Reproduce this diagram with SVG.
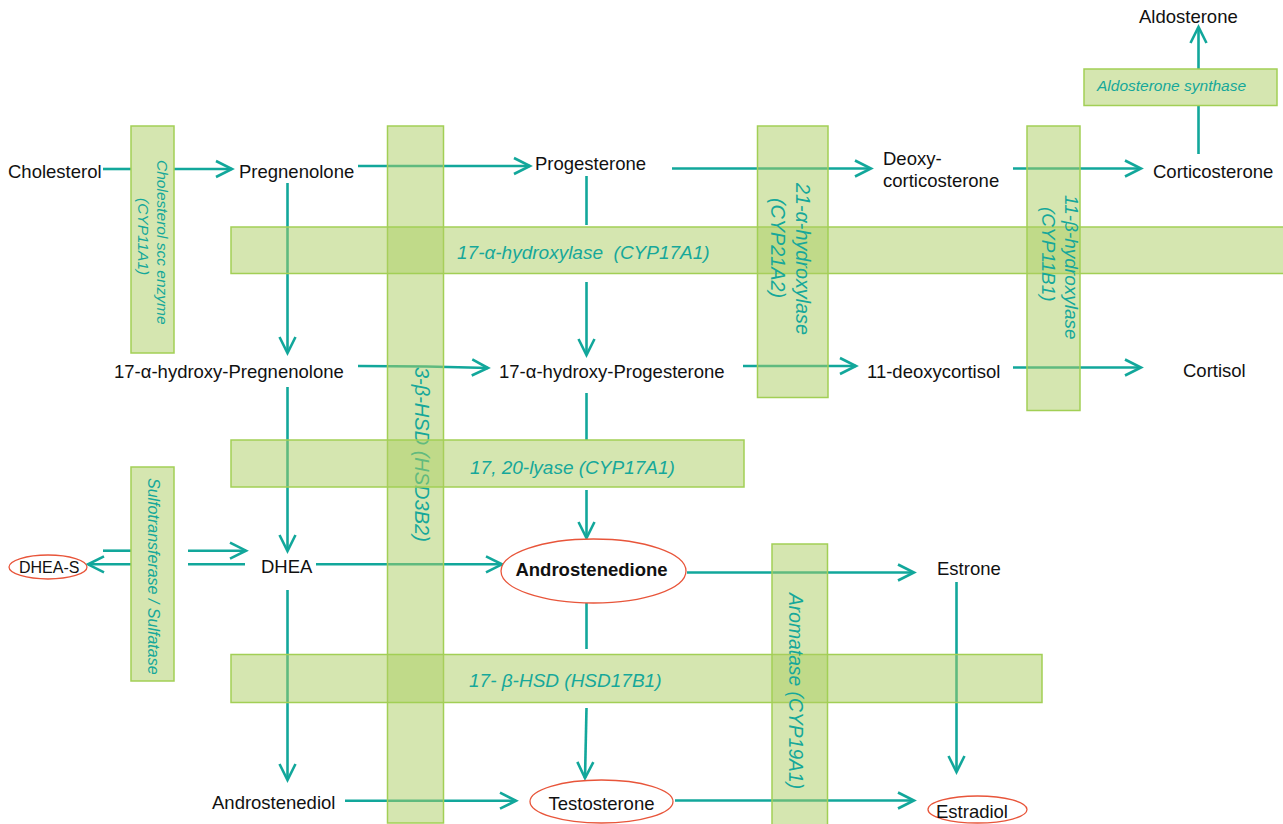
<svg xmlns="http://www.w3.org/2000/svg" width="1283" height="824" viewBox="0 0 1283 824">
<style>
.node{font-family:"Liberation Sans",Arial,sans-serif;font-size:18.5px;fill:#111}
.bold{font-weight:bold}
.lbl{font-family:"Liberation Sans",Arial,sans-serif;font-style:italic;font-size:19px;fill:#16a89a;white-space:pre}
.sm{font-size:15.5px}
.bar{fill:#abcd61;fill-opacity:0.5;stroke:#a2cf55;stroke-width:1.5}
.ell{fill:#fff;stroke:#e8553a;stroke-width:1.3}
.con{fill:none;stroke:#12a79b;stroke-width:2.6}
</style>
<defs>
<marker id="ah" markerUnits="userSpaceOnUse" markerWidth="24" markerHeight="24" viewBox="-20 -12 24 24" refX="0" refY="0" orient="auto">
<path d="M-16,-8 L0,0 L-16,8" fill="none" stroke="#12a79b" stroke-width="2.6"/>
</marker>
</defs>
<rect width="1283" height="824" fill="#fff"/>
<g id="connectors">
<line class="con" x1="103" y1="169" x2="131" y2="169"/>
<line class="con" x1="174" y1="169" x2="232" y2="169" marker-end="url(#ah)"/>
<line class="con" x1="358" y1="166" x2="530" y2="166" marker-end="url(#ah)"/>
<line class="con" x1="672" y1="168.5" x2="871" y2="168.5" marker-end="url(#ah)"/>
<line class="con" x1="1013" y1="168.5" x2="1141" y2="168.5" marker-end="url(#ah)"/>
<line class="con" x1="1198.5" y1="154" x2="1198.5" y2="106"/>
<line class="con" x1="1198.5" y1="69" x2="1198.5" y2="27" marker-end="url(#ah)"/>
<line class="con" x1="287.5" y1="183" x2="287.5" y2="353" marker-end="url(#ah)"/>
<line class="con" x1="586.5" y1="176" x2="586.5" y2="225"/>
<line class="con" x1="586.5" y1="282" x2="586.5" y2="355" marker-end="url(#ah)"/>
<path class="con" d="M358,366 Q430,366 488,368" marker-end="url(#ah)"/>
<line class="con" x1="743" y1="366" x2="856" y2="366" marker-end="url(#ah)"/>
<line class="con" x1="1013" y1="367.5" x2="1141" y2="367.5" marker-end="url(#ah)"/>
<line class="con" x1="287.5" y1="387" x2="287.5" y2="551" marker-end="url(#ah)"/>
<line class="con" x1="586.5" y1="393" x2="586.5" y2="440"/>
<line class="con" x1="586.5" y1="490" x2="586.5" y2="538" marker-end="url(#ah)"/>
<line class="con" x1="103" y1="550.7" x2="131" y2="550.7"/>
<line class="con" x1="188" y1="550.7" x2="246" y2="550.7" marker-end="url(#ah)"/>
<line class="con" x1="245" y1="564.3" x2="188" y2="564.3"/>
<line class="con" x1="131" y1="564.3" x2="88" y2="564.3" marker-end="url(#ah)"/>
<line class="con" x1="316" y1="564.3" x2="502" y2="564.3" marker-end="url(#ah)"/>
<line class="con" x1="687" y1="572.5" x2="914" y2="572.5" marker-end="url(#ah)"/>
<line class="con" x1="287.5" y1="590" x2="287.5" y2="780" marker-end="url(#ah)"/>
<line class="con" x1="586.5" y1="591" x2="586.5" y2="649"/>
<line class="con" x1="586.5" y1="708" x2="585" y2="778" marker-end="url(#ah)"/>
<line class="con" x1="956.5" y1="582" x2="956.5" y2="772" marker-end="url(#ah)"/>
<line class="con" x1="345" y1="800.7" x2="516" y2="800.7" marker-end="url(#ah)"/>
<line class="con" x1="675" y1="800.5" x2="914" y2="800.5" marker-end="url(#ah)"/>
</g>
<g id="enzymes">
<g id="e-scc"><rect class="bar" x="131" y="126" width="43" height="227"/>
<text class="lbl sm" transform="translate(157,160) rotate(90)">Cholesterol scc enzyme</text>
<text class="lbl sm" transform="translate(137.5,198) rotate(90)">(CYP11A1)</text></g>
<g id="e-3bhsd"><rect class="bar" x="387.5" y="126" width="56" height="697"/>
<text class="lbl" style="font-size:20px" transform="translate(415,367) rotate(90)">3-β-HSD (HSD3B2)</text></g>
<g id="e-17ah"><rect class="bar" x="231" y="227" width="1053" height="46.5"/>
<text class="lbl" x="457" y="259">17-α-hydroxylase  (CYP17A1)</text></g>
<g id="e-21ah"><rect class="bar" x="757.5" y="126" width="70.5" height="271.5"/>
<text class="lbl" style="font-size:19.8px" transform="translate(796,183) rotate(90)">21-α-hydroxylase</text>
<text class="lbl" style="font-size:19.8px" transform="translate(771,198) rotate(90)">(CYP21A2)</text></g>
<g id="e-11bh"><rect class="bar" x="1027" y="126" width="53" height="284.5"/>
<text class="lbl" transform="translate(1065,195) rotate(90)">11-β-hydroxylase</text>
<text class="lbl" transform="translate(1042,207) rotate(90)">(CYP11B1)</text></g>
<g id="e-aldo"><rect class="bar" x="1084" y="69" width="193" height="36.5"/>
<text class="lbl sm" x="1097" y="91">Aldosterone synthase</text></g>
<g id="e-lyase"><rect class="bar" x="231" y="440" width="513" height="47"/>
<text class="lbl" x="470" y="474">17, 20-lyase (CYP17A1)</text></g>
<g id="e-sulfo"><rect class="bar" x="131" y="467" width="43" height="214"/>
<text class="lbl" style="font-size:16px" transform="translate(148,478) rotate(90)">Sulfotransferase / Sulfatase</text></g>
<g id="e-17bhsd"><rect class="bar" x="231" y="654.5" width="811" height="48"/>
<text class="lbl" x="469" y="687">17- β-HSD (HSD17B1)</text></g>
<g id="e-arom"><rect class="bar" x="772" y="544" width="55.5" height="282"/>
<text class="lbl" style="font-size:19.3px" transform="translate(789,593) rotate(90)">Aromatase (CYP19A1)</text></g>
</g>
<g id="n-cholesterol"><text class="node" x="8" y="178">Cholesterol</text></g>
<g id="n-pregnenolone"><text class="node" x="239" y="178">Pregnenolone</text></g>
<g id="n-progesterone"><text class="node" x="535" y="170">Progesterone</text></g>
<g id="n-deoxycorticosterone"><text class="node" x="883" y="165">Deoxy-</text><text class="node" x="883" y="187">corticosterone</text></g>
<g id="n-corticosterone"><text class="node" x="1153" y="178">Corticosterone</text></g>
<g id="n-aldosterone"><text class="node" x="1139" y="23">Aldosterone</text></g>
<g id="n-17ohpreg"><text class="node" x="114" y="378">17-α-hydroxy-Pregnenolone</text></g>
<g id="n-17ohprog"><text class="node" x="499" y="378">17-α-hydroxy-Progesterone</text></g>
<g id="n-11deoxycortisol"><text class="node" x="867" y="378">11-deoxycortisol</text></g>
<g id="n-cortisol"><text class="node" x="1183" y="377">Cortisol</text></g>
<g id="n-dheas"><ellipse class="ell" cx="48" cy="567" rx="39" ry="12"/><text class="node" style="font-size:16px" x="19" y="572.5">DHEA-S</text></g>
<g id="n-dhea"><text class="node" x="261" y="573">DHEA</text></g>
<g id="n-androstenedione"><ellipse class="ell" cx="593.5" cy="571" rx="92.5" ry="32"/><text class="node bold" x="591.5" y="575.5" text-anchor="middle">Androstenedione</text></g>
<g id="n-estrone"><text class="node" x="937" y="575">Estrone</text></g>
<g id="n-androstenediol"><text class="node" x="212" y="809">Androstenediol</text></g>
<g id="n-testosterone"><ellipse class="ell" cx="601.5" cy="801.5" rx="71.5" ry="21.5"/><text class="node" x="601.5" y="810" text-anchor="middle">Testosterone</text></g>
<g id="n-estradiol"><ellipse class="ell" cx="977.5" cy="809.5" rx="49.5" ry="13.5"/><text class="node" x="936" y="818">Estradiol</text></g>
</svg>
